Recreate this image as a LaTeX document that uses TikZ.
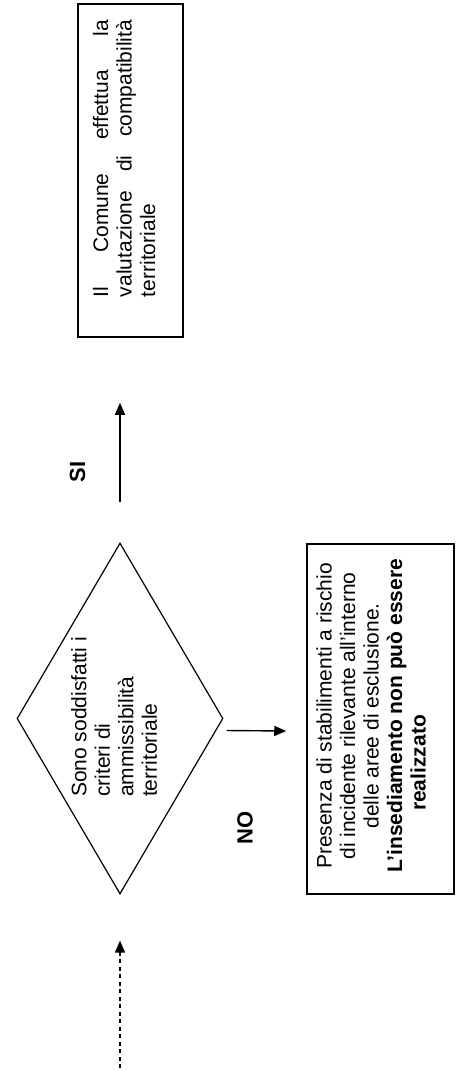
\documentclass[tikz,border=0pt]{standalone}
\usepackage{fontspec}
\setmainfont{Liberation Sans}
\usetikzlibrary{shapes.geometric,arrows.meta}
\hyphenpenalty=10000
\exhyphenpenalty=10000
\begin{document}
\begin{tikzpicture}[x=1pt,y=-1pt,
  txt/.style={font=\fontsize{21}{23.5}\selectfont, rotate=90, inner sep=0pt},
  lbl/.style={font=\fontsize{22}{26}\selectfont\bfseries, rotate=90, inner sep=0pt},
  boxnode/.style={draw, line width=1.5pt, rotate=90, inner sep=0pt},
  decision/.style={draw, line width=1.2pt, diamond, rotate=90, inner sep=0pt},
  arr/.style={line width=1.4pt, -{Triangle[length=12pt,width=10pt]}}
]
\useasboundingbox (0,0) rectangle (463,1070);
\node[boxnode, minimum width=333pt, minimum height=105pt] (b1) at (130.5,170.5) {};
\node[txt, text width=277pt, align=justify] (t1) at (124,158.5) {Il Comune effettua la valutazione di compatibilità territoriale};
\node[decision, minimum width=351pt, minimum height=206pt] (d) at (120,718.5) {};
\node[txt, align=left] (dt) at (114,717) {Sono soddisfatti i\\criteri di\\ammissibilità\\territoriale};
\node[boxnode, minimum width=350pt, minimum height=147pt] (b2) at (380.5,719) {};
\node[txt, align=center] (t2) at (371,716) {Presenza di stabilimenti a rischio\\di incidente rilevante all'interno\\delle aree di esclusione.\\\textbf{L'insediamento non può essere}\\\textbf{realizzato}\hspace*{94pt}};
\node[lbl] (si) at (77.5,472) {SI};
\node[lbl] (no) at (245,828) {NO};
\coordinate (start) at (120,1068);
\draw[arr, dash pattern=on 4pt off 3.5pt, shorten >=46pt] (start) -- (d.west);
\draw[arr, shorten <=40pt, shorten >=65pt] (d.east) -- (d.east |- b1.west);
\draw[arr] ([xshift=3pt,yshift=-12pt]d.south) -- ([xshift=-20pt,yshift=-12pt]b2.north);
\end{tikzpicture}
\end{document}
